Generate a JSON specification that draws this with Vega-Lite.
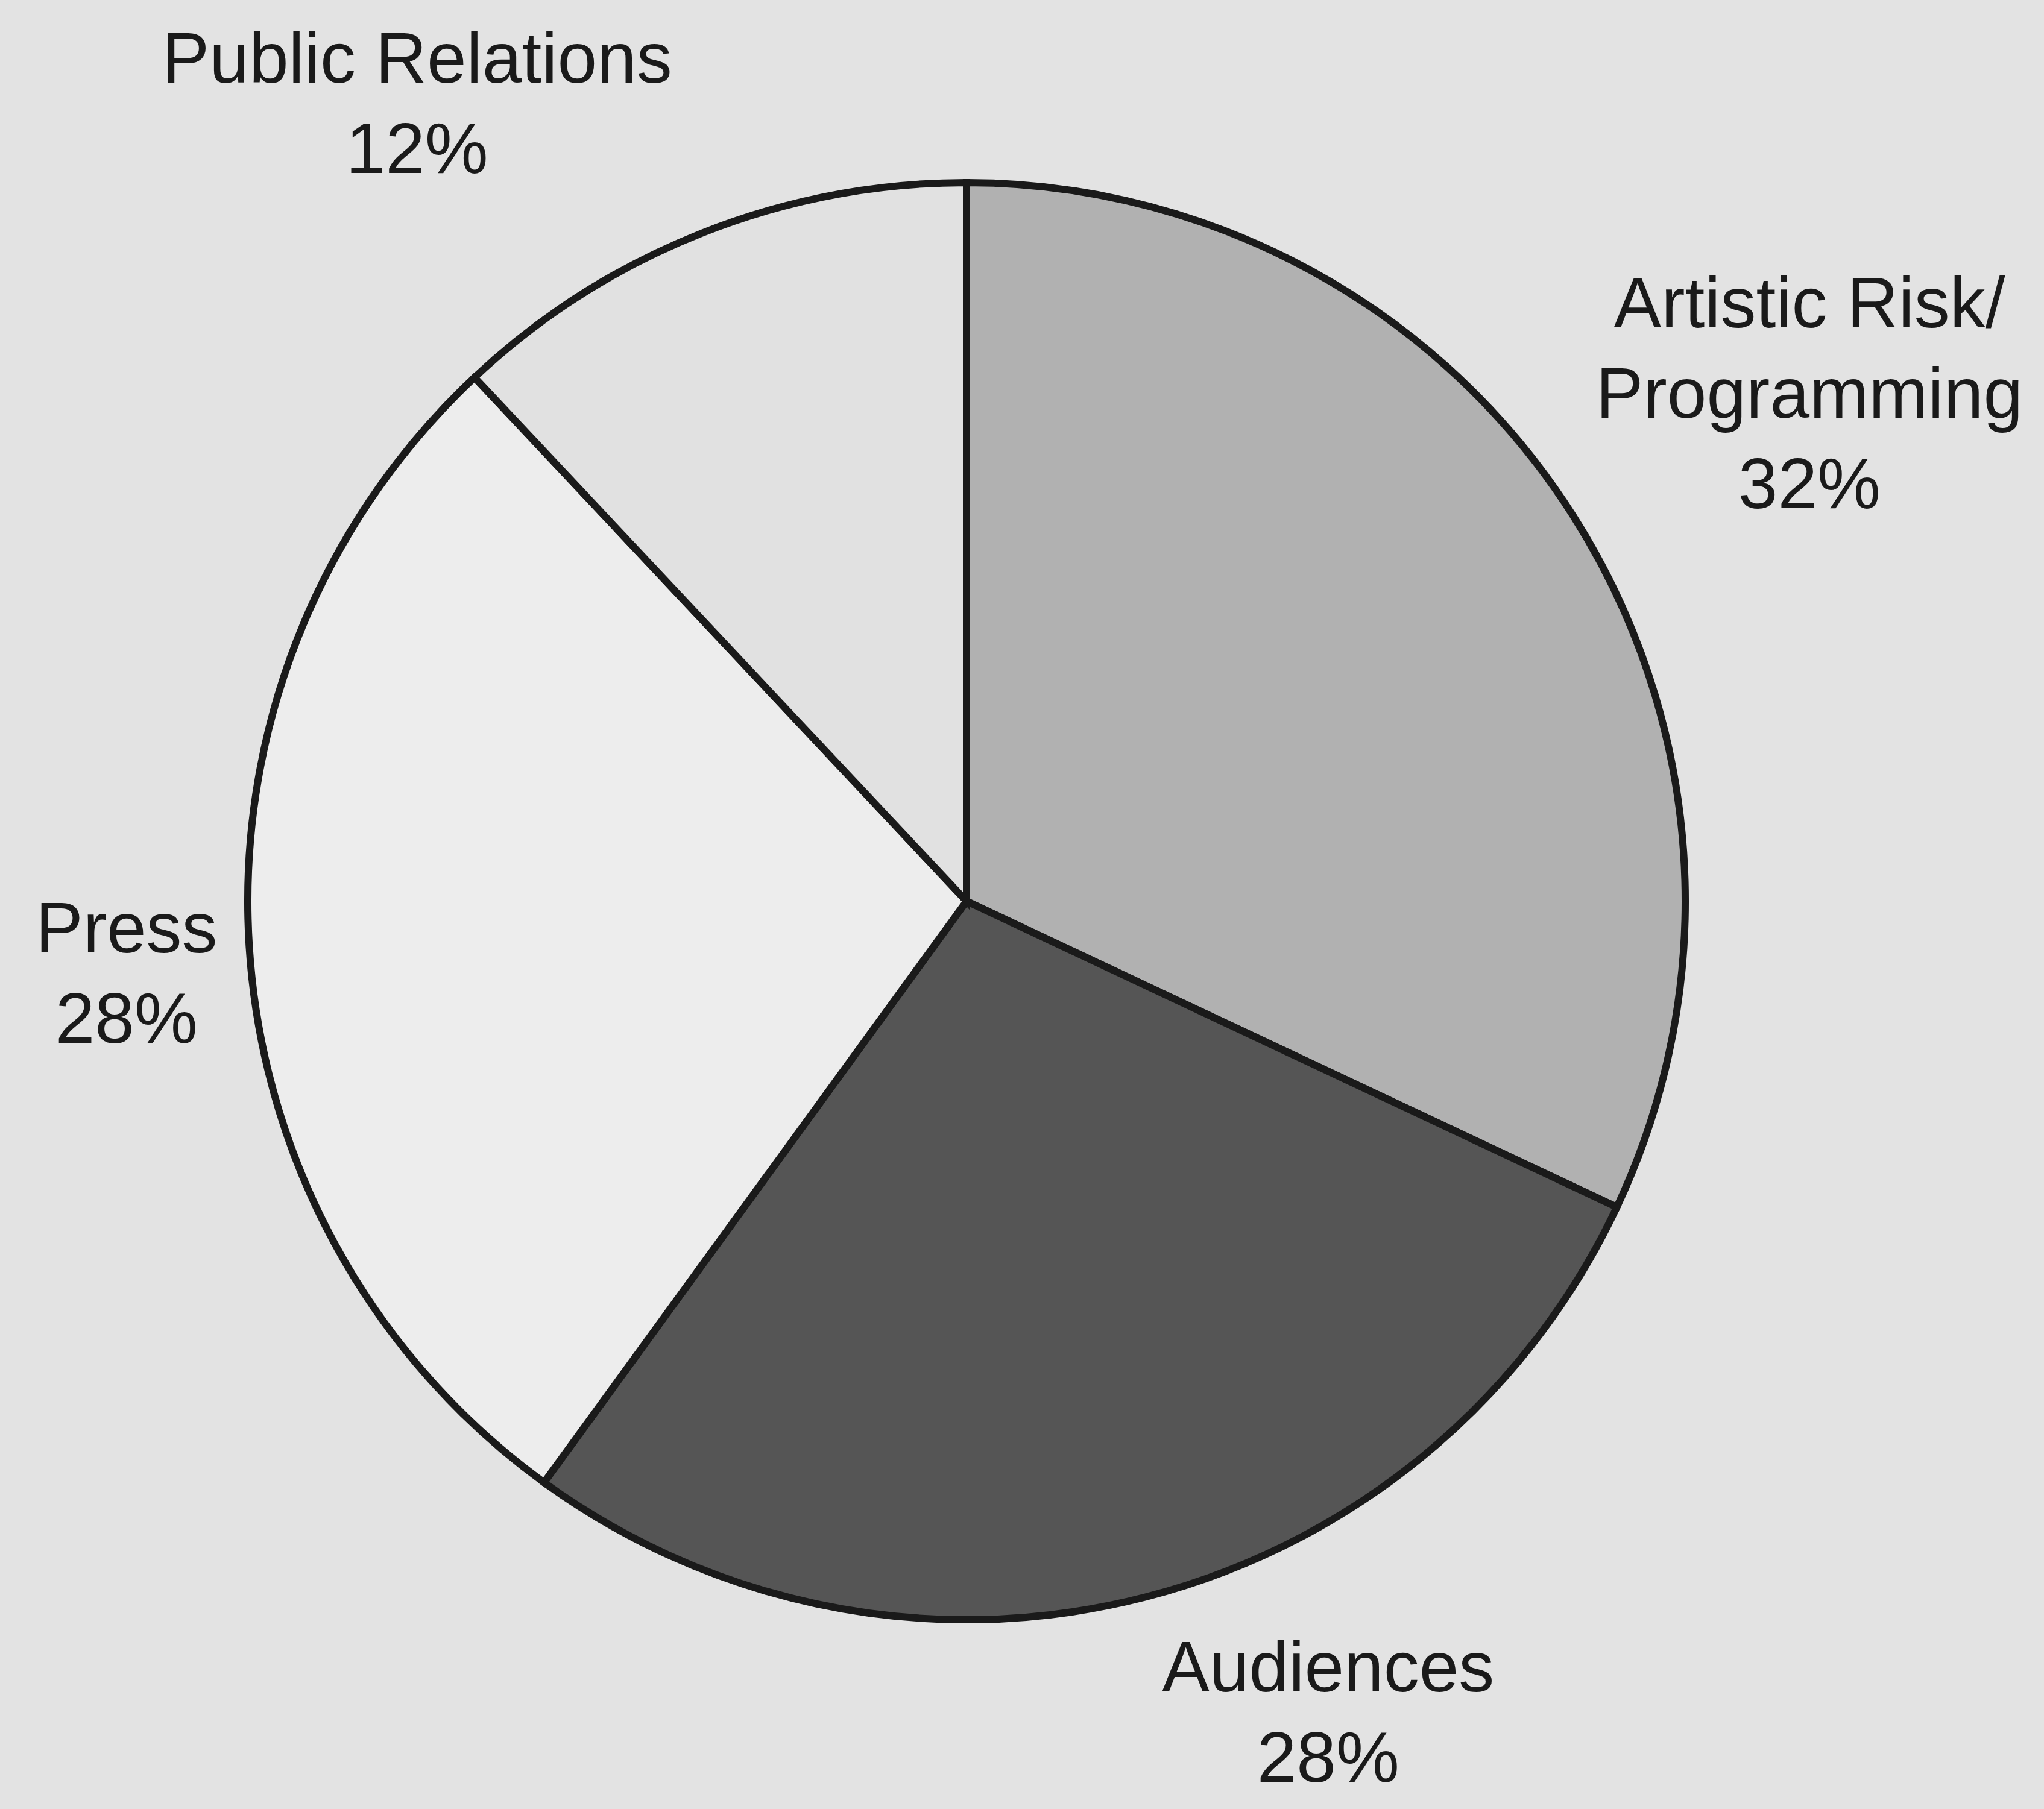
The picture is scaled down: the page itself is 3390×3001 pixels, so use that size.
{
  "$schema": "https://vega.github.io/schema/vega-lite/v6.json",
  "width": 3206,
  "height": 2990,
  "autosize": {"type": "none"},
  "padding": {"left": 0, "top": 0, "right": 184, "bottom": 11},
  "background": "#e3e3e3",
  "config": {"view": {"stroke": null}},
  "data": {
    "values": [
      {"rank": 1, "category": "Artistic Risk/\nProgramming", "value": 32},
      {"rank": 2, "category": "Audiences", "value": 28},
      {"rank": 3, "category": "Press", "value": 28},
      {"rank": 4, "category": "Public Relations", "value": 12}
    ]
  },
  "transform": [
    {"calculate": "datum.category + '\\n' + datum.value + '%'", "as": "label"}
  ],
  "encoding": {
    "theta": {"field": "value", "type": "quantitative", "stack": true},
    "order": {"field": "rank", "type": "quantitative"}
  },
  "layer": [
    {
      "mark": {"type": "arc", "outerRadius": 1192, "stroke": "#1a1a1a", "strokeWidth": 12, "strokeJoin": "miter"},
      "encoding": {
        "color": {
          "field": "category",
          "type": "nominal",
          "scale": {
            "domain": ["Artistic Risk/\nProgramming", "Audiences", "Press", "Public Relations"],
            "range": ["#b1b1b1", "#555555", "#ededed", "#e1e1e1"]
          },
          "legend": null
        }
      }
    },
    {
      "mark": {"type": "text", "radius": 1632, "dx": 20, "dy": -113, "font": "Liberation Sans", "fontSize": 118, "lineHeight": 150, "lineBreak": "\n", "align": "center", "baseline": "middle", "color": "#1a1a1a"},
      "encoding": {
        "text": {"condition": {"test": "datum.rank == 1", "field": "label"}, "value": ""}
      }
    },
    {
      "mark": {"type": "text", "radius": 1475, "dx": 233, "dy": -153, "font": "Liberation Sans", "fontSize": 118, "lineHeight": 150, "lineBreak": "\n", "align": "center", "baseline": "middle", "color": "#1a1a1a"},
      "encoding": {
        "text": {"condition": {"test": "datum.rank == 2", "field": "label"}, "value": ""}
      }
    },
    {
      "mark": {"type": "text", "radius": 1398, "dx": 2, "dy": -38, "font": "Liberation Sans", "fontSize": 118, "lineHeight": 150, "lineBreak": "\n", "align": "center", "baseline": "middle", "color": "#1a1a1a"},
      "encoding": {
        "text": {"condition": {"test": "datum.rank == 3", "field": "label"}, "value": ""}
      }
    },
    {
      "mark": {"type": "text", "radius": 1601, "dx": -322, "dy": 96, "font": "Liberation Sans", "fontSize": 118, "lineHeight": 150, "lineBreak": "\n", "align": "center", "baseline": "middle", "color": "#1a1a1a"},
      "encoding": {
        "text": {"condition": {"test": "datum.rank == 4", "field": "label"}, "value": ""}
      }
    }
  ]
}
